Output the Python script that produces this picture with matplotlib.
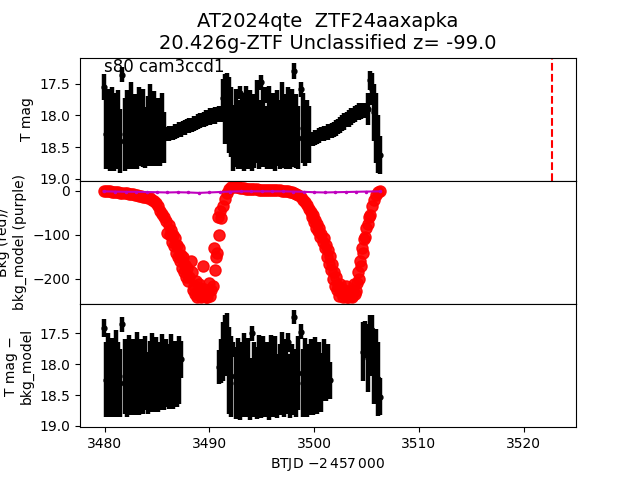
import numpy as np
import matplotlib
matplotlib.use("Agg")
import matplotlib.pyplot as plt

# ---------------- data ----------------
cadence = 0.2  # days between plotted samples

# Top panel: T mag (segments: start time, mags, errs)
top_start = 3479.9
top_mag = [
    # noisy A 3479.9-3485.7
    17.55, 18.30, 18.20, 18.40, 18.10, 18.35, 18.25, 18.15, 18.40, 17.36,
    18.30, 18.20, 18.35, 18.10, 18.30, 18.25, 18.40, 18.15, 18.30, 18.20,
    18.35, 18.25, 18.10, 18.30, 18.20, 18.35, 18.25, 18.30, 18.20, 18.35,
    # smooth B 3485.9-3491.1
    18.30, 18.29, 18.27, 18.28, 18.25, 18.24, 18.22, 18.23, 18.20, 18.19,
    18.17, 18.16, 18.15, 18.13, 18.12, 18.10, 18.08, 18.07, 18.06, 18.04,
    18.03, 18.02, 18.01, 18.00, 17.99, 17.98, 17.98,
    # noisy C 3491.3-3499.5
    17.72, 17.90, 17.43, 18.00, 18.10, 18.35, 18.20, 18.30, 17.64, 18.25,
    18.40, 18.15, 18.30, 18.20, 18.35, 18.25, 18.10, 18.30, 17.48, 18.20,
    17.68, 18.35, 18.15, 18.30, 18.25, 18.40, 18.20, 18.30, 18.10, 18.25,
    18.35, 18.15, 18.30, 18.20, 17.30, 18.25, 18.35, 17.59, 18.20, 18.30,
    18.25, 18.30,
    # smooth D 3499.7-3504.9
    18.38, 18.37, 18.35, 18.34, 18.32, 18.30, 18.29, 18.27, 18.26, 18.25,
    18.24, 18.22, 18.20, 18.18, 18.15, 18.12, 18.10, 18.07, 18.05, 18.02,
    18.00, 17.98, 17.96, 17.94, 17.93, 17.92, 17.92,
    # noisy E 3505.1-3506.3
    17.90, 17.45, 17.58, 17.95, 18.20, 18.45, 18.62,
]
top_err = [
    0.20, 0.55, 0.62, 0.48, 0.55, 0.52, 0.60, 0.55, 0.50, 0.12,
    0.58, 0.60, 0.50, 0.62, 0.55, 0.58, 0.45, 0.60, 0.50, 0.62,
    0.48, 0.55, 0.60, 0.50, 0.58, 0.45, 0.52, 0.50, 0.55, 0.40,
    0.11, 0.12, 0.11, 0.10, 0.12, 0.11, 0.12, 0.11, 0.11, 0.12,
    0.11, 0.12, 0.11, 0.12, 0.11, 0.12, 0.12, 0.11, 0.12, 0.13,
    0.12, 0.13, 0.12, 0.13, 0.12, 0.13, 0.12,
    0.30, 0.55, 0.10, 0.60, 0.55, 0.52, 0.62, 0.55, 0.10, 0.60,
    0.48, 0.62, 0.55, 0.60, 0.52, 0.58, 0.65, 0.55, 0.12, 0.62,
    0.12, 0.50, 0.62, 0.55, 0.60, 0.48, 0.60, 0.55, 0.62, 0.58,
    0.50, 0.60, 0.55, 0.62, 0.12, 0.58, 0.50, 0.12, 0.55, 0.50,
    0.50, 0.45,
    0.10, 0.11, 0.12, 0.11, 0.12, 0.11, 0.12, 0.11, 0.12, 0.11,
    0.12, 0.12, 0.13, 0.12, 0.13, 0.12, 0.13, 0.12, 0.13, 0.13,
    0.12, 0.13, 0.12, 0.13, 0.12, 0.12, 0.12,
    0.25, 0.15, 0.25, 0.45, 0.55, 0.45, 0.30,
]

# Middle panel: background flux (red) on the same grid as the top panel
bkg_flux = [
    0, 0, -1, -1, -2, -2, -3, -3, -4, -4,
    -5, -5, -6, -7, -8, -9, -10, -11, -12, -13,
    -14, -15, -17, -20, -24, -28, -35, -45, -52, -60,
    -68, -78, -88, -100, -108, -122, -130, -145, -150, -168,
    -175, -195, -185, -215, -205, -230, -220, -238, -222, -240,
    -228, -238, -215, -180, -140, -100, -62,
    -35, -18, -5, 4, 8, 10, 9, 8, 7, 6,
    6, 5, 5, 5, 4, 4, 4, 3, 3, 3,
    3, 2, 2, 2, 2, 1, 1, 1, 0, 0,
    -1, -1, -2, -3, -4, -6, -10, -14, -20, -26,
    -33, -40,
    -48, -55, -65, -75, -85, -98, -108, -122, -135, -148,
    -165, -185, -195, -215, -212, -232, -225, -240, -228, -238,
    -225, -235, -210, -200, -170, -140, -105,
    -75, -55, -35, -20, -10, -3, 0,
]
# extra background samples in between, during the two scattered-light dips
bkg_dip1_start = 3486.0
bkg_dip1 = [-95, -100, -115, -125, -140, -150, -160, -175, -185, -195,
            -205, -160, -225, -235, -240, -212, -240, -170, -235, -240,
            -210, -225, -130, -150, -60, -45]
bkg_dip2_start = 3499.8
bkg_dip2 = [-60, -70, -85, -90, -105, -115, -130, -150, -165, -180,
            -200, -215, -225, -238, -225, -242, -215, -240, -232, -242,
            -212, -228, -185, -160, -130, -110, -85, -60]

# Middle panel: background model (purple)
model_t = [3479.9, 3481.0, 3482.0, 3483.0, 3484.0, 3485.0, 3486.0, 3487.0,
           3488.0, 3489.0, 3490.0, 3491.0, 3492.0, 3493.0, 3494.0, 3495.0,
           3496.0, 3497.0, 3498.0, 3499.0, 3500.0, 3501.0, 3502.0, 3503.0,
           3504.0, 3505.0, 3506.3]
model_val = [-1.0, -1.5, -2.0, -2.0, -2.5, -3.0, -3.5, -3.0,
             -3.5, -4.5, -3.5, -2.5, -1.5, -1.0, -1.0, -1.0,
             -1.0, -1.0, -1.5, -2.0, -3.0, -3.5, -3.0, -2.5,
             -2.0, -1.5, -1.0]

# Bottom panel: T mag - bkg_model, three segments
bot1_start = 3479.9
bot1_mag = [17.42, 18.25, 18.15, 18.30, 18.20, 18.35, 18.10, 18.25, 18.30, 17.36,
            18.20, 18.30, 18.15, 18.35, 18.20, 18.25, 18.10, 18.30, 18.20, 18.25,
            18.15, 18.30, 18.20, 18.10, 18.25, 18.15, 18.30, 18.20, 18.10, 18.25,
            18.15, 18.20, 18.10, 18.25, 18.15, 18.20, 18.10, 17.92]
bot1_err = [0.15, 0.60, 0.65, 0.55, 0.62, 0.50, 0.65, 0.60, 0.55, 0.12,
            0.60, 0.55, 0.62, 0.48, 0.60, 0.58, 0.62, 0.52, 0.60, 0.55,
            0.60, 0.50, 0.58, 0.60, 0.52, 0.58, 0.48, 0.55, 0.58, 0.50,
            0.55, 0.52, 0.58, 0.48, 0.52, 0.50, 0.55, 0.30]
bot2_start = 3490.9
bot2_mag = [18.05, 17.95, 17.80, 17.70, 17.62, 18.10, 18.20, 17.77, 18.30, 18.20,
            18.35, 18.25, 18.15, 18.30, 18.20, 18.40, 17.50, 18.25, 18.30, 18.15,
            18.35, 18.20, 18.30, 18.25, 18.40, 18.15, 18.30, 18.20, 18.35, 18.25,
            18.10, 18.30, 18.20, 17.65, 18.35, 18.25, 17.24, 18.30, 18.15, 17.48,
            18.30, 18.20, 18.35, 18.25, 18.20, 18.30, 18.15, 18.25, 18.20, 18.30,
            18.10, 18.15, 18.02, 18.26]
bot2_err = [0.28, 0.35, 0.48, 0.50, 0.45, 0.70, 0.65, 0.12, 0.58, 0.62,
            0.55, 0.60, 0.65, 0.55, 0.62, 0.50, 0.12, 0.60, 0.58, 0.62,
            0.52, 0.65, 0.55, 0.60, 0.50, 0.62, 0.55, 0.65, 0.52, 0.58,
            0.62, 0.55, 0.60, 0.15, 0.52, 0.58, 0.12, 0.55, 0.60, 0.12,
            0.55, 0.62, 0.50, 0.58, 0.60, 0.52, 0.58, 0.55, 0.55, 0.48,
            0.50, 0.45, 0.35, 0.30]
bot3_start = 3504.7
bot3_mag = [17.80, 17.61, 17.90, 17.70, 17.45, 18.05, 17.84, 18.24, 18.53]
bot3_err = [0.48, 0.30, 0.55, 0.50, 0.25, 0.60, 0.40, 0.60, 0.30]

discovery_t = 3522.75
title = "AT2024qte  ZTF24aaxapka\n20.426g-ZTF Unclassified z= -99.0"
sector_label = "s80 cam3ccd1"


def grid(start, n):
    return start + cadence * np.arange(n)


# ---------------- plot ----------------
fig, axes = plt.subplots(3, 1, sharex=True, figsize=(6.4, 4.8), dpi=100)
fig.subplots_adjust(hspace=0)
ax1, ax2, ax3 = axes

eb_kw = dict(fmt='o', color='k', ms=3.5, elinewidth=3.2, capsize=0)

t_top = grid(top_start, len(top_mag))
ax1.errorbar(t_top, top_mag, yerr=top_err, **eb_kw)
ax1.axvline(discovery_t, color='r', ls='--', lw=1.5)
ax1.set_ylim(19.03, 17.09)
ax1.set_ylabel("T mag")
ax1.text(0.048, 1.0, sector_label, transform=ax1.transAxes, fontsize=12,
         ha='left', va='top')
ax1.set_title(title, fontsize=14)

red_kw = dict(ls='none', marker='o', color='red', ms=8, alpha=0.9, mec='red')
ax2.plot(grid(top_start, len(bkg_flux)), bkg_flux, **red_kw)
ax2.plot(grid(bkg_dip1_start, len(bkg_dip1)), bkg_dip1, **red_kw)
ax2.plot(grid(bkg_dip2_start, len(bkg_dip2)), bkg_dip2, **red_kw)
ax2.plot(model_t, model_val, '.-', color='m', ms=3, lw=1.5)
ax2.set_ylim(-257, 23)
ax2.set_ylabel("Bkg (red)/\nbkg_model (purple)")

for st, m, e in [(bot1_start, bot1_mag, bot1_err),
                 (bot2_start, bot2_mag, bot2_err),
                 (bot3_start, bot3_mag, bot3_err)]:
    ax3.errorbar(grid(st, len(m)), m, yerr=e, **eb_kw)
ax3.set_ylim(19.02, 17.03)
ax3.set_ylabel("T mag \u2212\nbkg_model")
ax3.set_xlim(3477.65, 3525.0)
ax3.set_xlabel(r"BTJD $-2\,457\,000$")

fig.savefig("out.png", dpi=100)
